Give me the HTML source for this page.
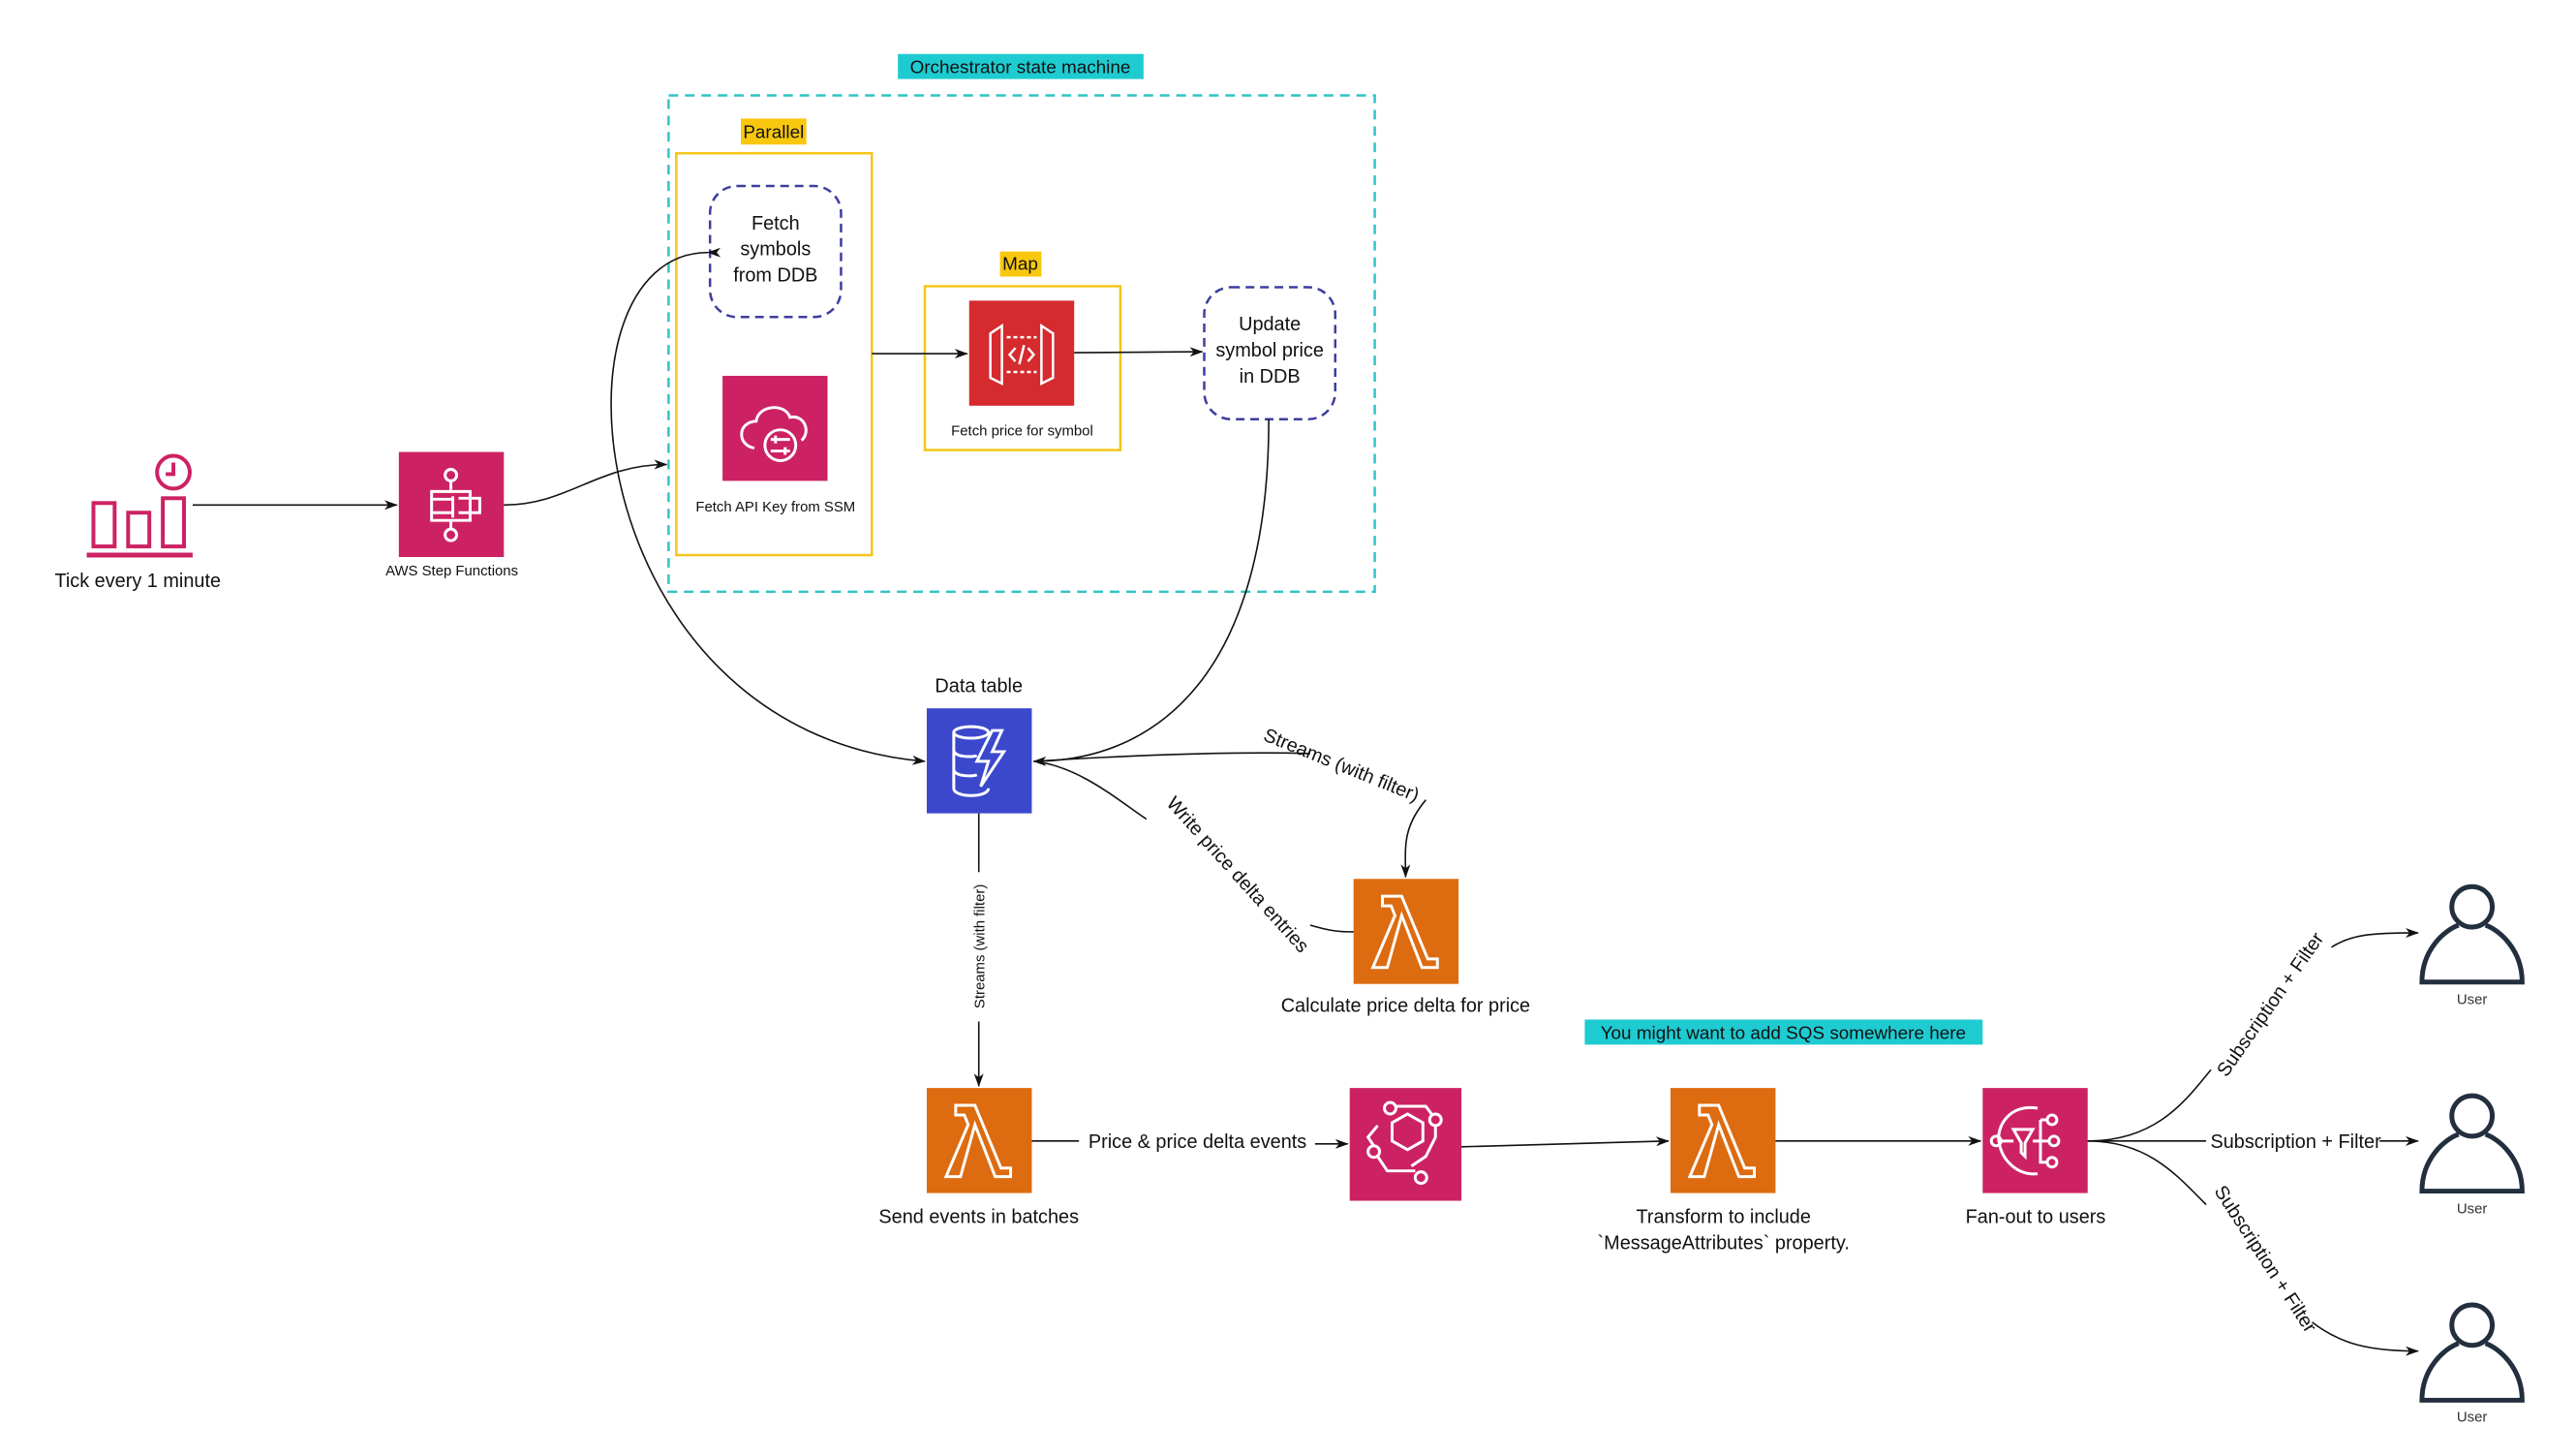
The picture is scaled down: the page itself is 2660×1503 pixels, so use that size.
<!DOCTYPE html>
<html><head><meta charset="utf-8"><style>
html,body{margin:0;padding:0;background:#fff;}
svg{display:block;font-family:"Liberation Sans",sans-serif;}
</style></head><body>
<svg width="2660" height="1503" viewBox="0 0 2660 1503" xmlns="http://www.w3.org/2000/svg">
<defs>
<marker id="a" markerWidth="14" markerHeight="10" refX="13" refY="5" orient="auto" markerUnits="userSpaceOnUse"><path d="M0,0 L14,5 L0,10 L4,5 Z" fill="#111"/></marker>
</defs>
<rect width="2660" height="1503" fill="#fff"/>
<g transform="scale(0.9948)">

<!-- Orchestrator -->
<rect x="932" y="56" width="255" height="26" fill="#1ecbd1"/>
<text x="1059" y="76" font-size="19" text-anchor="middle" fill="#111">Orchestrator state machine</text>
<rect x="694" y="99" width="733" height="515" fill="none" stroke="#2ec4c6" stroke-width="2.5" stroke-dasharray="10,7"/>

<!-- Parallel -->
<rect x="769" y="123" width="68" height="27" fill="#f9c80e"/>
<text x="803" y="143" font-size="19" text-anchor="middle" fill="#111">Parallel</text>
<rect x="702" y="159" width="203" height="417" fill="none" stroke="#f5c518" stroke-width="2.5"/>
<rect x="737" y="193" width="136" height="136" rx="28" fill="none" stroke="#3d3d9e" stroke-width="2.5" stroke-dasharray="9,6"/>
<text font-size="20" text-anchor="middle" fill="#111"><tspan x="805" y="238">Fetch</tspan><tspan x="805" y="265">symbols</tspan><tspan x="805" y="292">from DDB</tspan></text>
<rect x="750" y="390" width="109" height="109" fill="#cc2264"/>
<g stroke="#fff" stroke-width="3" fill="none">
<path d="M783,465 C765,462 765,438 785,437 C787,420 815,418 820,433 C835,430 842,448 832,457"/>
<circle cx="810" cy="462" r="16"/>
<path d="M800,456 H820 M800,468 H820 M805,452 V460 M815,464 V472"/>
</g>
<text x="805" y="531" font-size="15" text-anchor="middle" fill="#111">Fetch API Key from SSM</text>

<!-- Map -->
<rect x="1038" y="261" width="43" height="26" fill="#f9c80e"/>
<text x="1059" y="280" font-size="19" text-anchor="middle" fill="#111">Map</text>
<rect x="960" y="297" width="203" height="170" fill="none" stroke="#f5c518" stroke-width="2.5"/>
<rect x="1006" y="312" width="109" height="109" fill="#d52a2e"/>
<g stroke="#fff" stroke-width="2.5" fill="none">
<path d="M1040,338 L1028,346 V392 L1040,398 Z M1081,338 L1093,346 V392 L1081,398 Z"/>
<path d="M1045,350 H1076 M1045,386 H1076" stroke-dasharray="4,3"/>
<path d="M1054,361 L1048,368 L1054,375 M1067,361 L1073,368 L1067,375 M1063,358 L1058,378"/>
</g>
<text x="1061" y="452" font-size="15" text-anchor="middle" fill="#111">Fetch price for symbol</text>

<!-- Update -->
<rect x="1250" y="298" width="136" height="137" rx="28" fill="none" stroke="#3d3d9e" stroke-width="2.5" stroke-dasharray="9,6"/>
<text font-size="20" text-anchor="middle" fill="#111"><tspan x="1318" y="343">Update</tspan><tspan x="1318" y="370">symbol price</tspan><tspan x="1318" y="397">in DDB</tspan></text>

<!-- Tick -->
<g stroke="#cc2264" stroke-width="4" fill="none">
<rect x="97" y="522" width="22" height="45"/><rect x="133" y="532" width="22" height="35"/><rect x="169" y="517" width="22" height="50"/>
<path d="M90,576 H200" stroke-width="5"/>
<circle cx="180" cy="490" r="17"/><path d="M180,480 V492 H172"/>
</g>
<text x="143" y="609" font-size="20" text-anchor="middle" fill="#111">Tick every 1 minute</text>

<!-- Step functions -->
<rect x="414" y="469" width="109" height="109" fill="#cc2264"/>
<g stroke="#fff" stroke-width="3" fill="none">
<circle cx="468" cy="493" r="6"/><circle cx="468" cy="555" r="6"/>
<path d="M468,499 V510 M448,510 H488 V540 H448 Z M448,518 H470 M448,532 H470 M470,515 V537 M476,517 H498 V532 H476 M468,540 V549"/>
</g>
<text x="469" y="597" font-size="15" text-anchor="middle" fill="#111">AWS Step Functions</text>

<!-- DynamoDB -->
<text x="1016" y="718" font-size="20" text-anchor="middle" fill="#111">Data table</text>
<rect x="962" y="735" width="109" height="109" fill="#3b48cc"/>
<g stroke="#fff" stroke-width="3" fill="none">
<ellipse cx="1008" cy="760" rx="18" ry="6"/>
<path d="M990,760 V818 C990,828 1026,828 1026,818 M990,778 C990,786 1010,786 1014,784 M990,798 C990,806 1010,806 1014,804"/>
<path d="M1030,758 L1014,790 H1026 L1018,816 L1042,780 H1030 L1040,758 Z"/>
</g>

<!-- Lambda calc -->
<rect x="1405" y="912" width="109" height="109" fill="#dd6b10"/>
<path d="M1435,930 H1455 L1482,995 H1492 V1004 H1476 L1455,950 L1440,1004 H1425 L1448,950 L1444,940 H1435 Z" fill="none" stroke="#fff" stroke-width="3"/>
<text x="1459" y="1050" font-size="20" text-anchor="middle" fill="#111">Calculate price delta for price</text>

<!-- Lambda send -->
<rect x="962" y="1129" width="109" height="109" fill="#dd6b10"/>
<path d="M992,1147 H1012 L1039,1212 H1049 V1221 H1033 L1012,1167 L997,1221 H982 L1005,1167 L1001,1157 H992 Z" fill="none" stroke="#fff" stroke-width="3"/>
<text x="1016" y="1269" font-size="20" text-anchor="middle" fill="#111">Send events in batches</text>

<!-- EventBridge -->
<rect x="1401" y="1129" width="116" height="117" fill="#cc2264"/>
<g stroke="#fff" stroke-width="3" fill="none">
<path d="M1445,1165 L1461,1156 L1477,1165 V1184 L1461,1193 L1445,1184 Z"/>
<circle cx="1443" cy="1150" r="6"/><circle cx="1490" cy="1162" r="6"/><circle cx="1426" cy="1195" r="6"/><circle cx="1475" cy="1222" r="6"/>
<path d="M1449,1148 H1480 L1486,1156 M1490,1168 V1180 L1480,1200 L1465,1210 M1426,1189 L1420,1180 L1430,1168 M1430,1200 L1440,1215 H1469"/>
</g>

<!-- SQS label -->
<rect x="1645" y="1058" width="413" height="26" fill="#1ecbd1"/>
<text x="1851" y="1078" font-size="19" text-anchor="middle" fill="#111">You might want to add SQS somewhere here</text>

<!-- Lambda transform -->
<rect x="1734" y="1129" width="109" height="109" fill="#dd6b10"/>
<path d="M1764,1147 H1784 L1811,1212 H1821 V1221 H1805 L1784,1167 L1769,1221 H1754 L1777,1167 L1773,1157 H1764 Z" fill="none" stroke="#fff" stroke-width="3"/>
<text font-size="20" text-anchor="middle" fill="#111"><tspan x="1789" y="1269">Transform to include</tspan><tspan x="1789" y="1296">`MessageAttributes` property.</tspan></text>

<!-- SNS -->
<rect x="2058" y="1129" width="109" height="109" fill="#cc2264"/>
<g stroke="#fff" stroke-width="3" fill="none">
<path d="M2115,1150 C2085,1145 2072,1170 2075,1185 C2078,1205 2095,1220 2115,1218"/>
<circle cx="2072" cy="1184" r="5"/><circle cx="2130" cy="1162" r="5"/><circle cx="2132" cy="1184" r="5"/><circle cx="2130" cy="1206" r="5"/>
<path d="M2090,1172 H2110 L2102,1186 V1200 L2098,1196 V1186 Z M2077,1184 H2090 M2110,1184 H2127 M2118,1162 V1206 H2125 M2118,1162 H2125"/>
</g>
<text x="2113" y="1269" font-size="20" text-anchor="middle" fill="#111">Fan-out to users</text>

<!-- Users -->
<g stroke="#232f3e" stroke-width="5" fill="none">
<circle cx="2566" cy="941" r="21"/><path d="M2552,960 C2538,965 2514,985 2514,1019 H2618 C2618,985 2594,965 2580,960"/>
<circle cx="2566" cy="1158" r="21"/><path d="M2552,1177 C2538,1182 2514,1202 2514,1236 H2618 C2618,1202 2594,1182 2580,1177"/>
<circle cx="2566" cy="1375" r="21"/><path d="M2552,1394 C2538,1399 2514,1419 2514,1453 H2618 C2618,1419 2594,1399 2580,1394"/>
</g>
<text x="2566" y="1042" font-size="15" text-anchor="middle" fill="#333">User</text>
<text x="2566" y="1259" font-size="15" text-anchor="middle" fill="#333">User</text>
<text x="2566" y="1475" font-size="15" text-anchor="middle" fill="#333">User</text>

<!-- Connectors -->
<g stroke="#111" stroke-width="1.6" fill="none">
<path d="M200,524 H412" marker-end="url(#a)"/>
<path d="M523,524 C590,524 620,482 692,482" marker-end="url(#a)"/>
<path d="M735,262 C560,262 600,760 960,790" marker-start="url(#a)" marker-end="url(#a)"/>
<path d="M905,367 H1004" marker-end="url(#a)"/>
<path d="M1115,366 L1248,365" marker-end="url(#a)"/>
<path d="M1317,435 C1317,700 1200,790 1073,790" marker-end="url(#a)"/>
<path d="M1073,790 C1200,782 1300,780 1360,782 M1480,830 C1455,860 1459,880 1459,910" marker-end="url(#a)"/>
<path d="M1073,790 C1120,795 1160,830 1190,850 M1360,960 C1380,966 1390,967 1405,967"/>
<path d="M1016,844 V905 M1016,1060 V1127" marker-end="url(#a)"/>
<path d="M1071,1184 H1120 M1365,1187 H1399" marker-end="url(#a)"/>
<path d="M1517,1190 L1732,1184" marker-end="url(#a)"/>
<path d="M1843,1184 H2056" marker-end="url(#a)"/>
<path d="M2167,1184 C2240,1184 2270,1140 2295,1110 M2420,983 C2440,970 2460,968 2510,968" marker-end="url(#a)"/>
<path d="M2167,1184 H2290 M2470,1184 H2510" marker-end="url(#a)"/>
<path d="M2167,1184 C2230,1184 2260,1220 2290,1250 M2400,1372 C2430,1395 2460,1402 2510,1402" marker-end="url(#a)"/>
</g>

<!-- Connector labels -->
<text x="1390" y="800" font-size="20" text-anchor="middle" fill="#111" transform="rotate(22 1390 800)">Streams (with filter)</text>
<text x="1280" y="912" font-size="20" text-anchor="middle" fill="#111" transform="rotate(48 1280 912)">Write price delta entries</text>
<text x="1022" y="982" font-size="15" text-anchor="middle" fill="#111" transform="rotate(-90 1022 982)">Streams (with filter)</text>
<text x="1243" y="1191" font-size="20" text-anchor="middle" fill="#111">Price &amp; price delta events</text>
<text x="2362" y="1046" font-size="20" text-anchor="middle" fill="#111" transform="rotate(-55 2362 1046)">Subscription + Filter</text>
<text x="2383" y="1191" font-size="20" text-anchor="middle" fill="#111">Subscription + Filter</text>
<text x="2346" y="1310" font-size="20" text-anchor="middle" fill="#111" transform="rotate(57 2346 1310)">Subscription + Filter</text>
</g>
</svg>
</body></html>
